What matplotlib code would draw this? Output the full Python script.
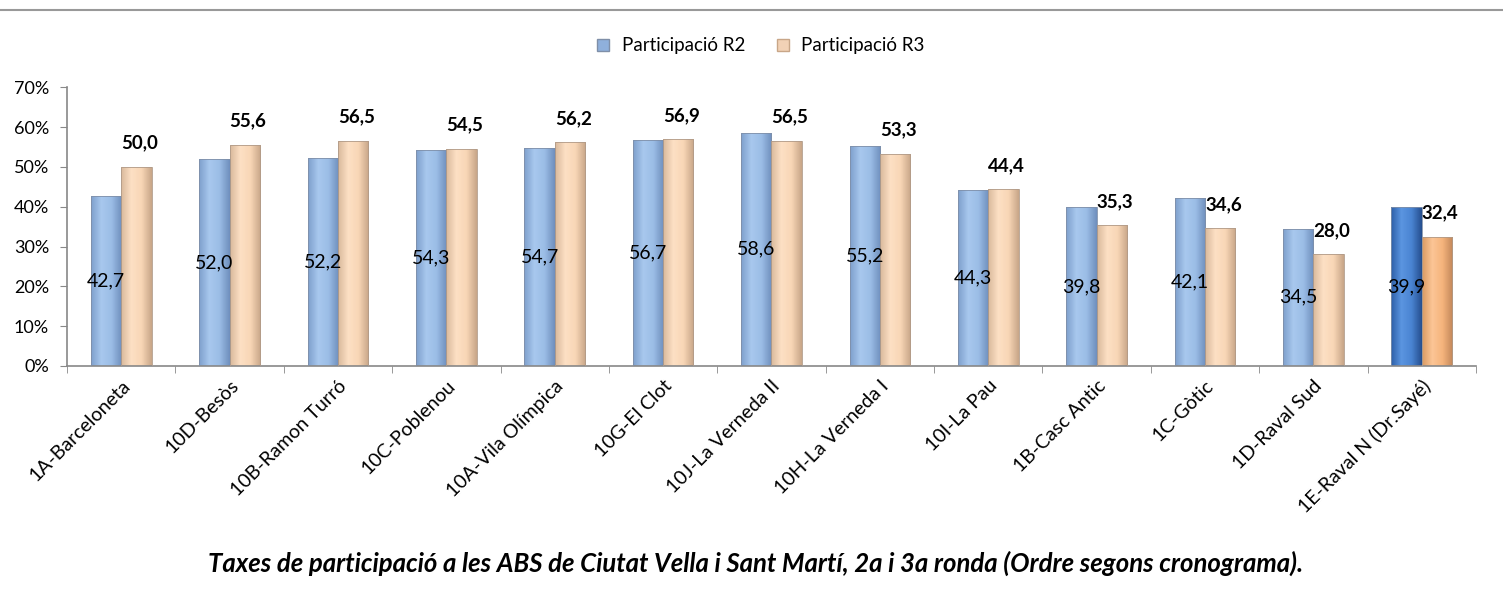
import matplotlib.pyplot as plt
import numpy as np
from matplotlib.colors import LinearSegmentedColormap
from matplotlib.lines import Line2D

plt.rcParams["font.family"] = ["Lato", "DejaVu Sans"]

categories = ["1A-Barceloneta", "10D-Besòs", "10B-Ramon Turró", "10C-Poblenou",
              "10A-Vila Olímpica", "10G-El Clot", "10J-La Verneda II", "10H-La Verneda I",
              "10I-La Pau", "1B-Casc Antic", "1C-Gòtic", "1D-Raval Sud", "1E-Raval N (Dr.Sayé)"]
r2 = [42.7, 52.0, 52.2, 54.3, 54.7, 56.7, 58.6, 55.2, 44.3, 39.8, 42.1, 34.5, 39.9]
r3 = [50.0, 55.6, 56.5, 54.5, 56.2, 56.9, 56.5, 53.3, 44.4, 35.3, 34.6, 28.0, 32.4]
yticks = [0, 10, 20, 30, 40, 50, 60, 70]

# gradients (left edge -> centre -> right edge)
blue = LinearSegmentedColormap.from_list("b", ["#7e9fcc", "#a8c8ee", "#9bbde6", "#6f8fbd"])
peach = LinearSegmentedColormap.from_list("p", ["#d9b99c", "#fde0c4", "#f8d6b6", "#c8a688"])
blue_hi = LinearSegmentedColormap.from_list("bh", ["#2d5fa8", "#5b95e0", "#4a84d2", "#264f8f"])
peach_hi = LinearSegmentedColormap.from_list("ph", ["#d99a62", "#fcc596", "#f5b47c", "#c2875a"])

fig = plt.figure(figsize=(15.03, 6.10), dpi=100)
ax = fig.add_axes([0.0446, 0.40, 0.9374, 0.457])

x = np.arange(len(categories))
w = 0.28
bars2 = ax.bar(x - w / 2, r2, w, color="none", edgecolor="#7f8fa8", linewidth=0.6, zorder=3)
bars3 = ax.bar(x + w / 2, r3, w, color="none", edgecolor="#b09a88", linewidth=0.6, zorder=3)

grad = np.linspace(0, 1, 64).reshape(1, -1)
last = len(categories) - 1
for i, (b2, b3) in enumerate(zip(bars2, bars3)):
    for b, cm in ((b2, blue_hi if i == last else blue), (b3, peach_hi if i == last else peach)):
        x0, y0 = b.get_x(), b.get_y()
        im = ax.imshow(grad, cmap=cm, aspect="auto", zorder=2,
                       extent=(x0, x0 + b.get_width(), y0, y0 + b.get_height()))
        im.set_clip_path(b)

for i in range(len(categories)):
    ax.text(x[i] - w / 2, r2[i] / 2, f"{r2[i]:.1f}".replace(".", ","),
            ha="center", va="center", fontsize=14, color="black", zorder=4)
    ax.text(x[i] + w / 2 + 0.03, r3[i] + 6, f"{r3[i]:.1f}".replace(".", ","),
            ha="center", va="center", fontsize=13.5, fontweight="bold", color="black", zorder=4)

ax.set_xlim(-0.5, len(categories) - 0.5)
ax.set_ylim(0, 70)
ax.set_yticks(yticks)
ax.set_yticklabels([f"{t}%" for t in yticks], fontsize=13)
ax.set_xticks(x)
ax.set_xticklabels(categories, rotation=45, ha="right", rotation_mode="anchor", fontsize=14)
ax.tick_params(axis="x", length=0, pad=8)
ax.set_xticks(np.arange(-0.5, len(categories)), minor=True)
ax.tick_params(axis="x", which="minor", length=5, color="#888888")
ax.tick_params(axis="y", length=5, color="#888888", pad=8)

for s in ("top", "right"):
    ax.spines[s].set_visible(False)
for s in ("left", "bottom"):
    ax.spines[s].set_color("#888888")
    ax.spines[s].set_linewidth(1.2)

handles = [Line2D([], [], marker="s", linestyle="none", markersize=9,
                  markerfacecolor="#8fb0dc", markeredgecolor="#7f8fa8"),
           Line2D([], [], marker="s", linestyle="none", markersize=9,
                  markerfacecolor="#f2d2b6", markeredgecolor="#c8a688")]
fig.legend(handles, ["Participació R2", "Participació R3"], loc="center",
           bbox_to_anchor=(0.502, 0.925), ncol=2, frameon=False, fontsize=13.5,
           handletextpad=0.0, columnspacing=1.0)

fig.add_artist(Line2D([0, 1], [0.984, 0.984], color="#999999", linewidth=1.5,
                      transform=fig.transFigure))

fig.text(0.503, 0.077, "Taxes de participació a les ABS de Ciutat Vella i Sant Martí, 2a i 3a ronda (Ordre segons cronograma).",
         ha="center", va="center", fontsize=18.5, fontweight="bold", style="italic")

fig.savefig("out.png", dpi=100)
